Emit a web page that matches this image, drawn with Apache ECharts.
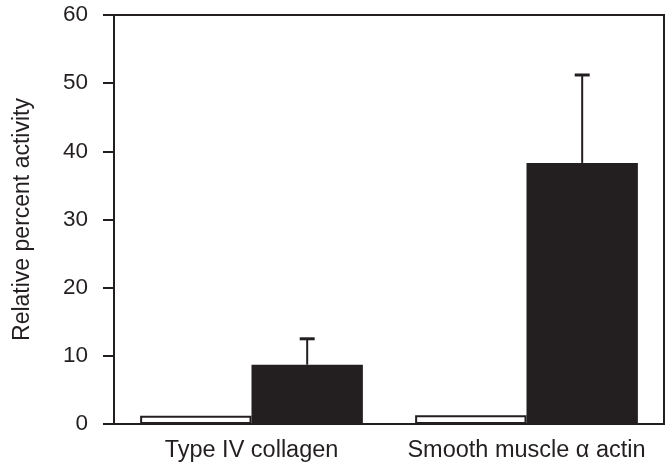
<!DOCTYPE html>
<html><head><meta charset="utf-8">
<script src="https://cdn.jsdelivr.net/npm/echarts@6/dist/echarts.min.js"></script>
<style>html,body{margin:0;padding:0;background:#fff}#c{width:665px;height:466px}</style>
</head><body><div id="c"></div>
<script>
var categories = ['Type IV collagen', 'Smooth muscle \u03b1 actin'];
var controlValues = [1.2, 1.3];
var treatedValues = [8.7, 38.3];
var treatedErrorTop = [12.5, 51.2];
var yTicks = [0, 10, 20, 30, 40, 50, 60];

var ink = '#231f20';
var font = 'Liberation Sans, Arial, sans-serif';
var chart = echarts.init(document.getElementById('c'));
var gapPct = 19;
chart.setOption({
  animation: false,
  grid: {left: 114, right: 1, top: 15, bottom: 42, show: true, borderColor: ink, borderWidth: 2, backgroundColor: 'transparent'},
  xAxis: {
    type: 'category', data: categories,
    axisLine: {lineStyle: {color: ink, width: 2}},
    axisTick: {show: false},
    axisLabel: {color: ink, fontSize: 23.5, fontFamily: font, margin: 15, interval: 0}
  },
  yAxis: {
    type: 'value', min: yTicks[0], max: yTicks[yTicks.length-1], interval: 10,
    name: 'Relative percent activity', nameLocation: 'middle', nameGap: 80,
    nameTextStyle: {color: ink, fontSize: 23, fontFamily: font},
    axisLine: {show: true, lineStyle: {color: ink, width: 2}},
    axisTick: {show: true, inside: false, length: 11, lineStyle: {color: ink, width: 2}},
    axisLabel: {color: ink, fontSize: 22.5, fontFamily: font, margin: 26},
    splitLine: {show: false}
  },
  series: [
    {type: 'bar', data: controlValues, barGap: 0, barCategoryGap: gapPct + '%',
     itemStyle: {color: '#fff', borderColor: ink, borderWidth: 2}},
    {type: 'bar', data: treatedValues, barGap: 0, barCategoryGap: gapPct + '%',
     itemStyle: {color: ink}},
    {type: 'custom', z: 5,
     data: treatedValues.map(function(v, i){ return [i, v, treatedErrorTop[i]]; }),
     renderItem: function(params, api){
       var band = api.size([1, 0])[0];
       var bw = band * (1 - gapPct/100) / 2;
       var base = api.coord([api.value(0), api.value(1)]);
       var top = api.coord([api.value(0), api.value(2)]);
       var x = base[0] + bw/2;
       return {type: 'group', children: [
         {type: 'line', shape: {x1: x, y1: base[1], x2: x, y2: top[1]}, style: {stroke: ink, lineWidth: 2}},
         {type: 'line', shape: {x1: x - 7.5, y1: top[1], x2: x + 7.5, y2: top[1]}, style: {stroke: ink, lineWidth: 3}}
       ]};
     }}
  ]
});
</script></body></html>
